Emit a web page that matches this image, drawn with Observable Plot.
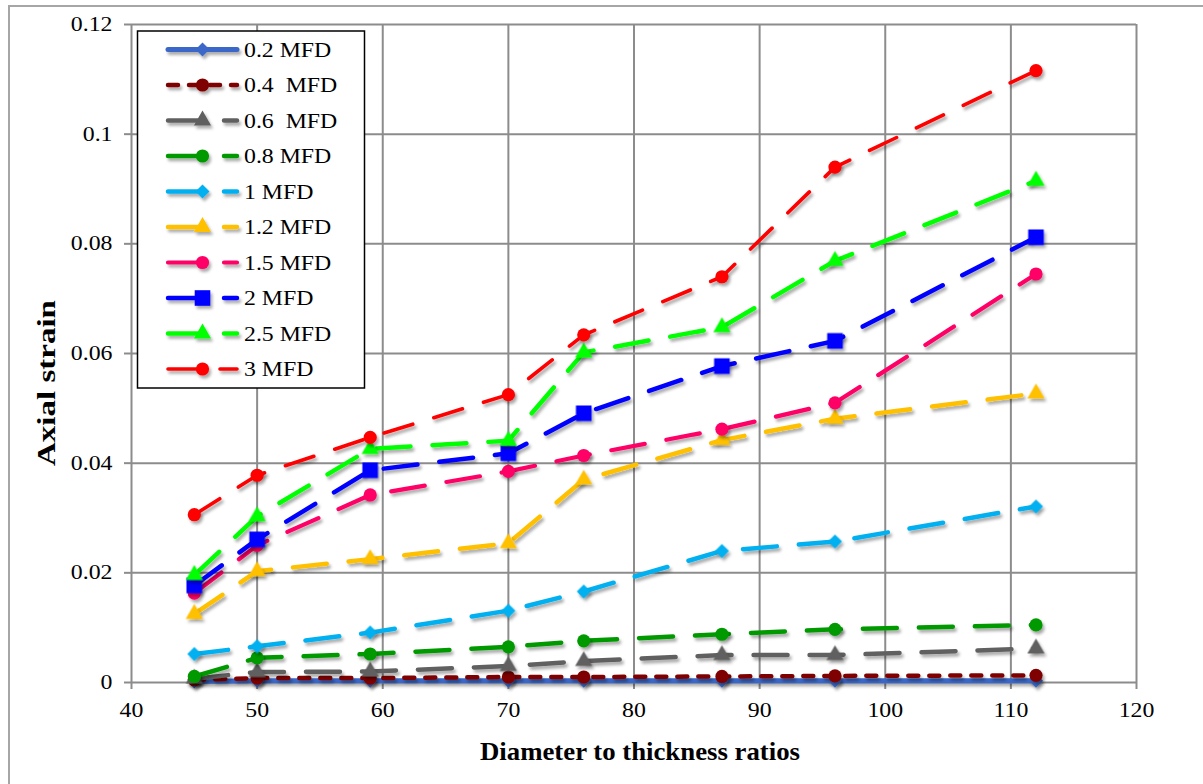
<!DOCTYPE html>
<html><head><meta charset="utf-8">
<script src="https://cdn.jsdelivr.net/npm/d3@7"></script>
<script src="https://cdn.jsdelivr.net/npm/@observablehq/plot@0.6"></script>
<style>
html,body{margin:0;padding:0;background:#fff;}
#chart{position:relative;width:1203px;height:784px;overflow:hidden;background:#fff;}
#frame{position:absolute;left:8px;top:5px;width:1300px;height:900px;border-left:2px solid #a6a6a6;border-top:2px solid #a6a6a6;pointer-events:none;}
</style></head><body><div id="chart"><div id="frame"></div></div>
<script>
// ---- data ----
const ratios = [45, 50, 59, 70, 76, 87, 96, 112];
const seriesNames = ["0.2 MFD", "0.4  MFD", "0.6  MFD", "0.8 MFD", "1 MFD", "1.2 MFD", "1.5 MFD", "2 MFD", "2.5 MFD", "3 MFD"];
const strain02 = [0.0002, 0.0003, 0.0003, 0.0003, 0.0003, 0.0003, 0.0003, 0.0003];
const strain04 = [0.0005, 0.0008, 0.0008, 0.0010, 0.0010, 0.0011, 0.0012, 0.0013];
const strain06 = [0.0007, 0.0019, 0.0020, 0.0030, 0.0039, 0.0050, 0.0050, 0.0062];
const strain08 = [0.0011, 0.0045, 0.0052, 0.0065, 0.0076, 0.0088, 0.0097, 0.0105];
const strain1  = [0.0052, 0.0066, 0.0091, 0.0131, 0.0166, 0.0240, 0.0257, 0.0321];
const strain12 = [0.0125, 0.0203, 0.0225, 0.0254, 0.0370, 0.0442, 0.0481, 0.0527];
const strain15 = [0.0163, 0.0250, 0.0342, 0.0385, 0.0414, 0.0462, 0.0510, 0.0745];
const strain2  = [0.0177, 0.0261, 0.0387, 0.0418, 0.0491, 0.0577, 0.0623, 0.0812];
const strain25 = [0.0196, 0.0303, 0.0426, 0.0441, 0.0602, 0.0648, 0.0769, 0.0915];
const strain3  = [0.0306, 0.0378, 0.0447, 0.0525, 0.0634, 0.0740, 0.0940, 0.1116];
const xTicks = [40, 50, 60, 70, 80, 90, 100, 110, 120];
const yTicks = [0, 0.02, 0.04, 0.06, 0.08, 0.1, 0.12];
const xTitle = "Diameter to thickness ratios";
const yTitle = "Axial strain";

// ---- styles (separate from data) ----
const seriesValues = [strain02, strain04, strain06, strain08, strain1, strain12, strain15, strain2, strain25, strain3];
const seriesColors = ["#3a68c8", "#7f0000", "#606060", "#009a00", "#00b0f0", "#ffc000", "#ff0066", "#0000ff", "#00ff00", "#ff0000"];
const seriesSymbols = ["diamond", "circle", "triangle", "circle", "diamond", "triangle", "circle", "square", "triangle", "circle"];
const seriesDash = [null, "10,11", "34,22", "34,22", "34,22", "34,22", "34,22", "34,22", "34,22", "30,22"];
const seriesWidth = [5, 4.5, 4.5, 4.5, 4.5, 4.5, 4.2, 4.5, 4.5, 3.6];
const symbolR = {diamond: 5.6, circle: 6.6, triangle: 6.4, square: 8.8};

const diamondSq = {
  draw(ctx, size) {
    const s = Math.sqrt(size / 2);
    ctx.moveTo(0, -s); ctx.lineTo(s, 0); ctx.lineTo(0, s); ctx.lineTo(-s, 0); ctx.closePath();
  }
};
const symbolOf = {diamond: diamondSq, circle: d3.symbolCircle, triangle: d3.symbolTriangle, square: d3.symbolSquare};

const tables = seriesNames.map((name, i) => ratios.map((r, j) => ({series: name, ratio: r, strain: seriesValues[i][j]})));

const gridColor = "#8c8c8c";
const marks = [
  Plot.gridX(xTicks, {stroke: gridColor, strokeOpacity: 1, strokeWidth: 2}),
  Plot.gridY(yTicks, {stroke: gridColor, strokeOpacity: 1, strokeWidth: 2}),
  Plot.axisX(xTicks, {tickSize: 7, tickPadding: 13, stroke: gridColor, strokeWidth: 2, fill: "#000", fontSize: 20, label: null}),
  Plot.axisY(yTicks, {tickSize: 7, tickPadding: 12, stroke: gridColor, strokeWidth: 2, fill: "#000", fontSize: 20, label: null, tickFormat: d3.format("~g")})
];
tables.forEach((t, i) => {
  marks.push(Plot.line(t, {x: "ratio", y: "strain", stroke: seriesColors[i], strokeWidth: seriesWidth[i],
    strokeDasharray: seriesDash[i] || undefined, strokeLinecap: "round", strokeLinejoin: "round"}));
  marks.push(Plot.dot(t, {x: "ratio", y: "strain", fill: seriesColors[i], stroke: "none",
    r: symbolR[seriesSymbols[i]], symbol: symbolOf[seriesSymbols[i]]}));
});

const plot = Plot.plot({
  width: 1203, height: 784,
  marginLeft: 131, marginRight: 67, marginTop: 24, marginBottom: 102,
  x: {domain: [40, 120], label: null},
  y: {domain: [0, 0.12], label: null},
  style: {fontFamily: "'Liberation Serif','Times New Roman',serif", fontSize: "20px", color: "#000", background: "transparent"},
  marks
});
plot.style.position = "absolute";
plot.style.left = "0px";
plot.style.top = "0px";
document.getElementById("chart").appendChild(plot);

const svg = d3.select(plot);
// drop shadow
const defs = svg.insert("defs", ":first-child");
const f = defs.append("filter").attr("id", "shadow").attr("filterUnits", "userSpaceOnUse")
  .attr("x", 0).attr("y", 0).attr("width", 1203).attr("height", 784);
f.append("feDropShadow").attr("dx", 2).attr("dy", 3).attr("stdDeviation", 1.6)
  .attr("flood-color", "#000").attr("flood-opacity", 0.33);
svg.selectAll('g[aria-label="line"], g[aria-label="dot"]').attr("filter", "url(#shadow)");

// axis titles
svg.append("text").attr("class", "title").attr("text-anchor", "middle")
  .attr("transform", "translate(640,760)").attr("font-size", 25).attr("font-weight", "bold")
  .attr("fill", "#000").text(xTitle)
  .each(function() { this.setAttribute("textLength", 320); this.setAttribute("lengthAdjust", "spacingAndGlyphs"); });
svg.append("text").attr("class", "title").attr("text-anchor", "middle")
  .attr("transform", "translate(55,383) rotate(-90)").attr("font-size", 25).attr("font-weight", "bold")
  .attr("fill", "#000").text(yTitle)
  .each(function() {
    const len = this.getComputedTextLength();
    this.setAttribute("transform", `translate(55,383) rotate(-90) scale(${166 / len},1)`);
  });

// legend
const lg = svg.append("g").attr("class", "legend");
lg.append("rect").attr("x", 137.5).attr("y", 31).attr("width", 227).attr("height", 357)
  .attr("fill", "#fff").attr("stroke", "#000").attr("stroke-width", 1.5);
seriesNames.forEach((name, i) => {
  const yy = 49.5 + i * 35.5;
  const g = lg.append("g").attr("filter", "url(#shadow)");
  g.append("line").attr("x1", 168).attr("x2", 237).attr("y1", yy).attr("y2", yy)
    .attr("stroke", seriesColors[i]).attr("stroke-width", seriesWidth[i])
    .attr("stroke-linecap", "round").attr("stroke-dasharray", seriesDash[i] || null);
  const r = symbolR[seriesSymbols[i]];
  g.append("path").attr("d", d3.symbol(symbolOf[seriesSymbols[i]], Math.PI * r * r)())
    .attr("transform", `translate(202.5,${yy})`).attr("fill", seriesColors[i]);
  lg.append("text").attr("x", 244).attr("y", yy).attr("dy", "0.35em").attr("text-anchor", "start")
    .attr("font-size", 20).attr("fill", "#000").style("white-space", "pre").text(name);
});

// widen horizontal text to mimic the stretched reference
const stretch = 1.19;
svg.selectAll('g[aria-label="x-axis tick label"] text, g[aria-label="y-axis tick label"] text, g.legend text').each(function() {
  const len = this.getComputedTextLength();
  this.setAttribute("textLength", len * stretch);
  this.setAttribute("lengthAdjust", "spacingAndGlyphs");
});
</script>
</body></html>
